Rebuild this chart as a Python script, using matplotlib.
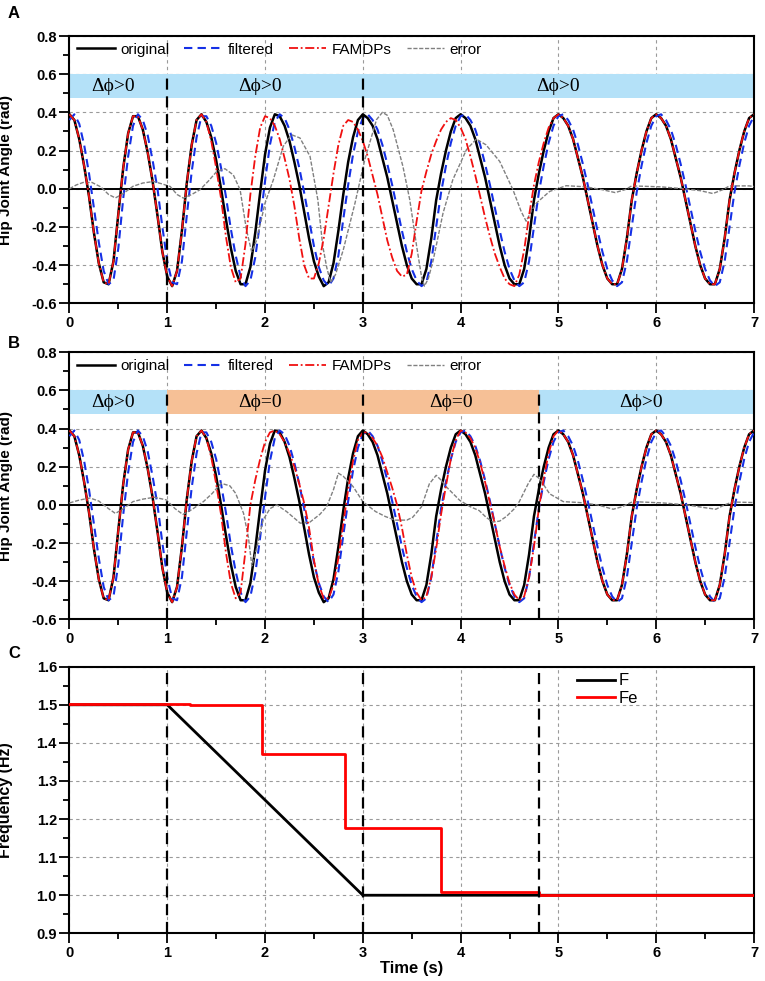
import numpy as np
import matplotlib
matplotlib.use("Agg")
import matplotlib.pyplot as plt
from matplotlib.ticker import MultipleLocator, FormatStrFormatter

plt.rcParams['font.family'] = ['Liberation Sans', 'DejaVu Sans']
plt.rcParams['axes.unicode_minus'] = False

# sampling grid of the hip angle curves (s), one value every 0.05 s
time_s = np.linspace(0, 7, 141)

# hip joint angles, values in 1/100 rad
original = np.array([39,36,26,12,-4,-23,-39,-49,-50,-38,-13,11,29,38,38,31,19,4,-14,-33,-46,-51,-43,-22,3,23,36,39,35,27,15,0,-16,-31,-43,-50,-50,-41,-23,-2,18,32,39,38,33,25,14,2,-12,-26,-38,-46,-51,-49,-39,-22,-3,14,27,36,39,37,33,26,16,6,-6,-18,-30,-40,-47,-50,-50,-42,-26,-6,8,20,30,37,39,37,33,26,16,6,-6,-18,-30,-40,-47,-50,-50,-42,-26,-6,8,20,30,37,39,37,33,26,16,6,-6,-18,-30,-40,-47,-50,-50,-42,-26,-6,8,20,30,37,39,37,33,26,16,6,-6,-18,-30,-40,-47,-50,-50,-42,-26,-6,8,20,30,37,39]) / 100
filtered = np.array([36,39,34,23,8,-10,-28,-43,-50,-48,-31,-5,17,33,39,36,28,15,0,-20,-38,-49,-50,-38,-14,9,27,38,38,33,24,11,-4,-21,-35,-46,-51,-48,-36,-17,4,23,35,39,37,31,22,11,-2,-16,-30,-41,-48,-51,-47,-35,-16,2,18,30,37,39,36,31,23,13,2,-10,-22,-33,-42,-48,-51,-49,-38,-20,-2,12,24,33,38,39,36,31,23,13,2,-10,-22,-33,-42,-48,-51,-49,-38,-20,-2,12,24,33,38,39,36,31,23,13,2,-10,-22,-33,-42,-48,-51,-49,-38,-20,-2,12,24,33,38,39,36,31,23,13,2,-10,-22,-33,-42,-48,-51,-49,-38,-20,-2,12,24,33,38]) / 100
# FAMDPs output, panel A (dphi>0) and panel B (dphi=0)
famdps_a = np.array([39,36,26,12,-4,-23,-39,-49,-50,-38,-13,11,29,38,38,31,19,4,-14,-33,-46,-51,-43,-22,3,23,36,39,35,25,11,-5,-25,-41,-49,-47,-29,-3,17,32,38,37,33,26,16,5,-9,-26,-40,-47,-47,-39,-26,-9,8,23,33,36,35,31,25,17,7,-3,-15,-27,-36,-43,-46,-45,-34,-17,-1,9,18,25,31,35,37,36,32,26,17,7,-4,-15,-25,-34,-41,-47,-50,-51,-45,-32,-14,2,14,24,32,37,39,37,33,26,16,6,-6,-18,-30,-40,-47,-50,-50,-42,-26,-6,8,20,30,37,39,37,33,26,16,6,-6,-18,-30,-40,-47,-50,-50,-42,-26,-6,8,20,30,37,39]) / 100
famdps_b = np.array([39,36,26,12,-4,-23,-39,-49,-50,-38,-13,11,29,38,38,31,19,4,-14,-33,-46,-51,-43,-22,3,23,36,39,35,25,11,-5,-25,-41,-49,-46,-24,0,13,24,33,38,39,37,33,27,20,11,1,-12,-29,-42,-49,-49,-42,-28,-10,8,23,34,38,38,35,31,25,17,9,0,-12,-26,-38,-46,-50,-48,-38,-23,-5,10,24,34,39,38,35,30,22,12,1,-10,-22,-32,-41,-47,-50,-48,-38,-22,-2,14,27,36,39,37,33,26,16,6,-6,-18,-30,-40,-47,-50,-50,-42,-26,-6,8,20,30,37,39,37,33,26,16,6,-6,-18,-30,-40,-47,-50,-50,-42,-26,-6,8,20,30,37,39]) / 100

# error traces, read point by point
err_a_t = [0.00, 0.07, 0.14, 0.23, 0.32, 0.40, 0.47, 0.55, 0.65, 0.75, 0.86, 0.95, 1.03, 1.10, 1.165,
           1.25, 1.335, 1.42, 1.505, 1.59, 1.675, 1.745, 1.81, 1.863, 1.914, 2.0, 2.085, 2.186, 2.27,
           2.357, 2.46, 2.54, 2.59, 2.63, 2.67, 2.72, 2.80, 2.92, 3.02, 3.14, 3.20, 3.25, 3.31, 3.41,
           3.48, 3.55, 3.60, 3.63, 3.67, 3.72, 3.82, 3.92, 4.06, 4.16, 4.26, 4.40, 4.535, 4.62, 4.67,
           4.72, 4.775, 4.91, 5.08, 5.28, 5.45, 5.58, 5.68, 5.75, 6.05, 6.28, 6.45, 6.58, 6.68, 6.75,
           6.95, 7.0]
err_a = [0.00, 0.02, 0.033, 0.033, 0.01, -0.03, -0.048, -0.025, 0.013, 0.03, 0.038, 0.025, 0.012,
         -0.03, -0.049, -0.03, -0.005, 0.04, 0.09, 0.105, 0.073, -0.005, -0.215, -0.33, -0.27, -0.075,
         0.047, 0.222, 0.283, 0.266, 0.17, -0.058, -0.30, -0.41, -0.49, -0.45, -0.32, -0.075, 0.152,
         0.362, 0.40, 0.385, 0.31, 0.117, -0.058, -0.30, -0.46, -0.51, -0.47, -0.373, -0.128, 0.047,
         0.205, 0.26, 0.23, 0.143, -0.005, -0.12, -0.17, -0.12, -0.075, -0.014, 0.016, 0.01, -0.005,
         -0.02, -0.005, 0.015, 0.01, 0.0, -0.01, -0.025, -0.005, 0.015, 0.015, 0.012]
err_b_t = [0.00, 0.10, 0.21, 0.30, 0.40, 0.47, 0.55, 0.65, 0.75, 0.87, 0.99, 1.08, 1.16, 1.25, 1.37,
           1.46, 1.55, 1.64, 1.70, 1.78, 1.83, 1.865, 1.91, 1.98, 2.05, 2.12, 2.22, 2.36, 2.46, 2.56,
           2.63, 2.70, 2.75, 2.80, 2.90, 3.0, 3.13, 3.23, 3.33, 3.45, 3.51, 3.60, 3.68, 3.75, 3.80,
           3.855, 3.99, 4.10, 4.19, 4.26, 4.33, 4.40, 4.47, 4.55, 4.60, 4.69, 4.75, 4.81, 4.91, 5.05,
           5.22, 5.40, 5.56, 5.65, 5.76, 6.07, 6.31, 6.50, 6.61, 6.70, 6.78, 7.0]
err_b = [0.01, 0.025, 0.036, 0.02, -0.02, -0.045, -0.02, 0.017, 0.03, 0.04, 0.026, -0.02, -0.05,
         -0.025, 0.017, 0.06, 0.113, 0.10, 0.06, -0.044, -0.17, -0.32, -0.236, -0.079, -0.02, 0.0,
         -0.035, -0.096, -0.09, -0.05, -0.01, 0.08, 0.166, 0.15, 0.096, 0.017, -0.035, -0.061, -0.08,
         -0.08, -0.065, -0.01, 0.11, 0.155, 0.13, 0.094, 0.024, -0.01, -0.03, -0.065, -0.09, -0.085,
         -0.06, -0.02, 0.017, 0.11, 0.16, 0.136, 0.058, 0.017, 0.012, 0.0, -0.023, -0.01, 0.017, 0.01,
         0.0, -0.015, -0.023, 0.0, 0.015, 0.012]

# frequency panel
freq_t = [0, 1, 3, 7]
freq_F = [1.5, 1.5, 1.0, 1.0]
fe_t = [0, 1.23, 1.97, 2.82, 3.80, 4.80, 7.0]
fe_vals = [1.502, 1.499, 1.372, 1.176, 1.009, 1.0, 1.0]

# phase-mode segments and switching instants
segments_a = [(0, 1, '>'), (1, 3, '>'), (3, 7, '>')]
labels_a = [(0.45, 'Δϕ>0'), (1.95, 'Δϕ>0'), (5.0, 'Δϕ>0')]
switches_a = [1, 3]
segments_b = [(0, 1, '>'), (1, 4.8, '='), (4.8, 7, '>')]
labels_b = [(0.45, 'Δϕ>0'), (1.95, 'Δϕ=0'), (3.9, 'Δϕ=0'), (5.85, 'Δϕ>0')]
switches_b = [1, 3, 4.8]
switches_c = [1, 3, 4.8]

band_lo, band_hi = 0.475, 0.6
band_colors = {'>': '#b4e1f8', '=': '#f6c096'}
serif = ['Liberation Serif', 'DejaVu Serif']


def style(ax, ylo, yhi, major, minor):
    ax.set_xlim(0, 7)
    ax.set_ylim(ylo, yhi)
    ax.xaxis.set_major_locator(MultipleLocator(1))
    ax.xaxis.set_minor_locator(MultipleLocator(0.5))
    ax.yaxis.set_major_locator(MultipleLocator(major))
    ax.yaxis.set_minor_locator(MultipleLocator(minor))
    ax.yaxis.set_major_formatter(FormatStrFormatter('%.1f'))
    ax.tick_params(which='both', direction='out', width=1.3, top=False, right=False)
    ax.tick_params(which='major', length=7.5, labelsize=10.5, pad=1.5)
    ax.tick_params(which='minor', length=4.5)
    for lab in ax.get_xticklabels() + ax.get_yticklabels():
        lab.set_fontweight('bold')
    ax.grid(True, which='major', color='#9a9a9a', linestyle=(0, (3, 3)), linewidth=0.8)
    ax.set_axisbelow(True)
    for s in ax.spines.values():
        s.set_linewidth(1.5)


def angle_panel(ax, famdps, e_t, e, segments, labels, switches):
    style(ax, -0.6, 0.8, 0.2, 0.1)
    for x0, x1, kind in segments:
        ax.fill_between([x0, x1], band_lo, band_hi, color=band_colors[kind], lw=0, zorder=1)
    for x, s in labels:
        ax.text(x, (band_lo + band_hi) / 2, s, ha='center', va='center', fontsize=14,
                family=serif, zorder=7)
    ax.axhline(0, color='black', lw=1.4, zorder=2)
    ax.vlines(switches, -0.6, band_hi, colors='black', linestyles=(0, (5, 3)), lw=1.6, zorder=6)
    h1, = ax.plot(time_s, original, color='black', lw=1.8, label='original', zorder=3)
    h2, = ax.plot(time_s, filtered, color='#1530e6', lw=1.5, ls=(0, (4, 2.5)),
                  label='filtered', zorder=4)
    h3, = ax.plot(time_s, famdps, color='#f01010', lw=1.3, ls=(0, (5, 1.5, 1, 1.5)),
                  label='FAMDPs', zorder=5)
    h4, = ax.plot(e_t, e, color='#808080', lw=1.0, ls=(0, (3, 1.2)), label='error', zorder=4)
    ax.legend(handles=[h1, h2, h3, h4], loc='upper left', bbox_to_anchor=(0.011, 0.975), ncol=4,
              frameon=False, fontsize=11, handlelength=2.46, handletextpad=0.37,
              columnspacing=0.98, borderpad=0, borderaxespad=0)
    ax.set_ylabel('Hip Joint Angle (rad)', fontsize=11, fontweight='bold')
    ax.yaxis.set_label_coords(-0.082, 0.5)


fig = plt.figure(figsize=(7.65, 9.81), dpi=100)
axA = fig.add_axes([0.0908, 0.6908, 0.8948, 0.2725])
axB = fig.add_axes([0.0908, 0.3687, 0.8948, 0.2722])
axC = fig.add_axes([0.0908, 0.0486, 0.8948, 0.2718])

angle_panel(axA, famdps_a, err_a_t, err_a, segments_a, labels_a, switches_a)
angle_panel(axB, famdps_b, err_b_t, err_b, segments_b, labels_b, switches_b)

style(axC, 0.9, 1.6, 0.1, 0.05)
axC.vlines(switches_c, 0.9, 1.6, colors='black', linestyles=(0, (5, 3)), lw=1.6, zorder=6)
axC.plot(freq_t, freq_F, color='black', lw=2.0, label='F', zorder=3)
axC.step(fe_t, fe_vals, where='post', color='#ff0000', lw=2.0, label='Fe', zorder=4)
axC.legend(loc='upper left', bbox_to_anchor=(0.741, 0.975), frameon=False, fontsize=12,
           handlelength=2.3, handletextpad=0.2, labelspacing=0.15, borderpad=0, borderaxespad=0)
axC.set_ylabel('Frequency (Hz)', fontsize=11.5, fontweight='bold')
axC.yaxis.set_label_coords(-0.082, 0.5)
axC.set_xlabel('Time (s)', fontsize=12, fontweight='bold', labelpad=1)

for letter, yy in [('A', 1 - 14 / 981), ('B', 1 - 343 / 981), ('C', 1 - 653 / 981)]:
    fig.text(8 / 765, yy, letter, fontsize=12, fontweight='bold', va='center')

fig.savefig('out.png', dpi=100)
